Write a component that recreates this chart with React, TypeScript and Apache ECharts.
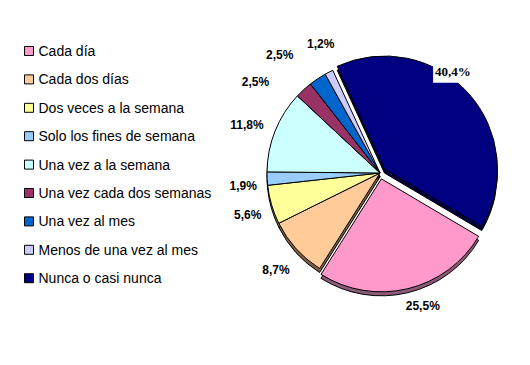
import React, { useEffect, useRef } from "react";
import * as echarts from "echarts";

const categories = [
  "Cada día",
  "Cada dos días",
  "Dos veces a la semana",
  "Solo los fines de semana",
  "Una vez a la semana",
  "Una vez cada dos semanas",
  "Una vez al mes",
  "Menos de una vez al mes",
  "Nunca o casi nunca",
];
const values = [25.5, 8.7, 5.6, 1.9, 11.8, 2.5, 2.5, 1.2, 40.4];
const exploded = [true, false, false, false, false, false, false, false, true];

// styles
const faceColors = ["#FF99CC", "#FFCC99", "#FFFF99", "#99CCFF", "#CCFFFF", "#993366", "#0066CC", "#CCCCFF", "#000080"];
const sideColors = ["#8C5A78", "#806040", "#808040", "#4D6680", "#668080", "#4D1A33", "#003366", "#666680", "#000040"];
const labelNudges: number[][] = [
  [10, -3],
  [0, 3],
  [2, 3],
  [3, 6],
  [-3, 4],
  [-30, 12],
  [-23, -1],
  [4, -4],
  [-31, -8],
];

const fmt = (v: number) => `${v.toFixed(1).replace(".", ",")}%`;

export default function App() {
  const ref = useRef<HTMLDivElement>(null);
  useEffect(() => {
    if (!ref.current) return;
    const chart = echarts.init(ref.current, undefined, { renderer: "svg" });
    const cx = 380;
    const cy = 173;
    const r = 113;
    const base = {
      type: "pie" as const,
      radius: r,
      startAngle: -30.6,
      clockwise: true,
      selectedMode: "multiple" as const,
      selectedOffset: 6,
      label: { show: false },
      labelLine: { show: false },
      emphasis: { disabled: true },
      select: { itemStyle: { borderColor: "#000", borderWidth: 1 } },
      silent: true,
    };
    chart.setOption({
      animation: false,
      backgroundColor: "#ffffff",
      legend: {
        orient: "vertical",
        left: 19,
        top: 38,
        icon: "rect",
        itemWidth: 9,
        itemHeight: 9,
        itemGap: 12.4,
        selectedMode: false,
        data: categories,
        itemStyle: { borderColor: "#000", borderWidth: 1 },
        textStyle: { fontFamily: "Arial, 'Liberation Sans'", fontSize: 14, lineHeight: 16, color: "#000" },
      },
      series: [
        {
          ...base,
          name: "main",
          center: [cx, cy],
          z: 3,
          itemStyle: { borderColor: "#000", borderWidth: 1 },
          data: categories.map((c, i) => ({
            name: c,
            value: values[i],
            selected: exploded[i],
            itemStyle: { color: faceColors[i] },
          })),
        },
        {
          ...base,
          name: "depth",
          center: [cx, cy + 4],
          z: 2,
          itemStyle: { borderColor: "#000", borderWidth: 1 },
          data: categories.map((c, i) => ({
            name: c,
            value: values[i],
            selected: exploded[i],
            itemStyle: { color: sideColors[i] },
          })),
        },
        {
          type: "pie",
          name: "labels",
          center: [cx, cy],
          radius: [100, 174],
          startAngle: -30.6,
          clockwise: true,
          silent: true,
          z: 4,
          emphasis: { disabled: true },
          avoidLabelOverlap: false,
          itemStyle: { color: "rgba(0,0,0,0)", borderWidth: 0 },
          labelLine: { show: false },
          label: {
            show: true,
            position: "inside",
            rotate: 0,
            fontFamily: "Arial, 'Liberation Sans'",
            fontWeight: "bold",
            fontSize: 12,
            color: "#000",
            formatter: (p: any) => fmt(p.value),
          },
          labelLayout: (p: any) => ({ dx: labelNudges[p.dataIndex][0], dy: labelNudges[p.dataIndex][1] }),
          data: categories.map((c, i) => ({
            name: c,
            value: values[i],
            label:
              i === 8
                ? {
                    fontFamily: "'Liberation Serif', 'Times New Roman', serif",
                    fontSize: 13,
                    backgroundColor: "#fff",
                    padding: [5, 2],
                  }
                : undefined,
          })),
        },
      ],
    });
    return () => chart.dispose();
  }, []);
  return <div ref={ref} style={{ position: "absolute", left: 0, top: 0, width: 530, height: 365 }} />;
}
